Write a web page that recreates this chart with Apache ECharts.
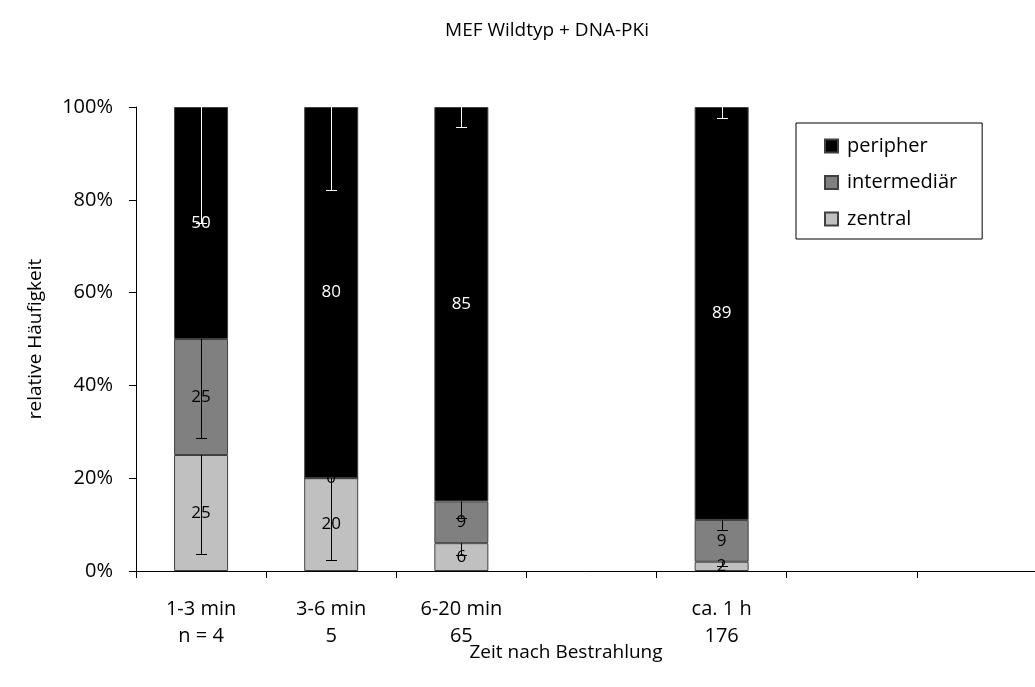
<!DOCTYPE html>
<html>
<head>
<meta charset="utf-8">
<script src="https://cdn.jsdelivr.net/npm/echarts@6/dist/echarts.min.js"></script>
<style>
  html, body { margin: 0; padding: 0; background: #fff; }
  #chart { width: 1035px; height: 687px; }
</style>
</head>
<body>
<div id="chart"></div>
<script>
// Time after irradiation (upper line) and number of cells (lower line)
const timeLabels  = ['1-3 min', '3-6 min', '6-20 min', '', 'ca. 1 h', '', ''];
const countLabels = ['n = 4', '5', '65', '', '176', '', ''];

// Relative frequency (%) per localisation
const zentral      = [25, 20, 6, null, 2, null, null];
const intermediaer = [25, 0, 9, null, 9, null, null];
const peripher     = [50, 80, 85, null, 89, null, null];

// One-sided error (%) drawn downward from the top of each segment
const zentralErr      = [21.3, 17.6, 2.6, null, 1.0, null, null];
const intermediaerErr = [21.3, 0, 3.5, null, 2.2, null, null];
const peripherErr     = [25, 17.9, 4.3, null, 2.4, null, null];

const yTicks = [0, 20, 40, 60, 80, 100];

const FONT = 'Open Sans';
const categories = timeLabels.map((t, i) => t ? t + '\n' + countLabels[i] : '');

// error bar items: [category index, top of segment, error, line colour]
function errorItems(values, below, errs, color) {
  const out = [];
  values.forEach((v, i) => {
    if (v == null || errs[i] == null || errs[i] === 0) return;
    const top = below.reduce((s, arr) => s + (arr[i] || 0), 0) + v;
    out.push([i, top, errs[i], color]);
  });
  return out;
}
const errData = []
  .concat(errorItems(zentral, [], zentralErr, '#000'))
  .concat(errorItems(intermediaer, [zentral], intermediaerErr, '#000'))
  .concat(errorItems(peripher, [zentral, intermediaer], peripherErr, '#fff'));

function barSeries(name, data, color, labelColor) {
  return {
    name: name,
    type: 'bar',
    stack: 'total',
    data: data,
    barWidth: 54,
    itemStyle: { color: color, borderColor: '#404040', borderWidth: 1 },
    label: {
      show: true,
      position: 'inside',
      color: labelColor,
      fontFamily: FONT,
      fontSize: 17
    },
    emphasis: { disabled: true }
  };
}

const chart = echarts.init(document.getElementById('chart'), null, { renderer: 'canvas' });
chart.setOption({
  animation: false,
  backgroundColor: '#fff',
  textStyle: { fontFamily: FONT, color: '#000' },
  legend: {
    orient: 'vertical',
    left: 796,
    top: 123,
    padding: [13, 25, 10, 28],
    itemGap: 16.5,
    itemWidth: 13,
    itemHeight: 13,
    icon: 'rect',
    borderColor: '#000',
    borderWidth: 1,
    data: ['peripher', 'intermediär', 'zentral'],
    textStyle: { fontFamily: FONT, fontSize: 20, color: '#000', lineHeight: 20, padding: [0, 0, 0, 4] }
  },
  graphic: [{
    type: 'text',
    x: 547,
    y: 31,
    style: {
      text: 'MEF Wildtyp + DNA-PKi',
      font: '19px "' + FONT + '"',
      fill: '#000',
      textAlign: 'center',
      textVerticalAlign: 'middle'
    }
  }, {
    type: 'text',
    x: 566,
    y: 653,
    style: {
      text: 'Zeit nach Bestrahlung',
      font: '19px "' + FONT + '"',
      fill: '#000',
      textAlign: 'center',
      textVerticalAlign: 'middle'
    }
  }],
  grid: {
    left: 136, top: 107, width: 911, height: 464,
    containLabel: false,
    outerBoundsMode: 'none'
  },
  xAxis: {
    type: 'category',
    data: categories,
    axisLine: { lineStyle: { color: '#000', width: 1 } },
    axisTick: { show: true, length: 7, lineStyle: { color: '#000' } },
    axisLabel: {
      interval: 0,
      margin: 25,
      color: '#000',
      fontFamily: FONT,
      fontSize: 20,
      lineHeight: 27
    },
    splitLine: { show: false }
  },
  yAxis: {
    type: 'value',
    min: yTicks[0],
    max: yTicks[yTicks.length - 1],
    interval: 20,
    name: 'relative Häufigkeit',
    nameLocation: 'middle',
    nameGap: 91,
    nameTextStyle: { fontFamily: FONT, fontSize: 19, color: '#000' },
    axisLine: { show: true, lineStyle: { color: '#000', width: 1 } },
    axisTick: { show: true, length: 7, lineStyle: { color: '#000' } },
    axisLabel: {
      formatter: '{value}%',
      margin: 23,
      color: '#000',
      fontFamily: FONT,
      fontSize: 20
    },
    splitLine: { show: false }
  },
  series: [
    barSeries('zentral', zentral, '#c0c0c0', '#000'),
    barSeries('intermediär', intermediaer, '#808080', '#000'),
    barSeries('peripher', peripher, '#000000', '#fff'),
    {
      type: 'custom',
      name: 'error',
      z: 5,
      silent: true,
      data: errData,
      encode: { x: 0, y: 1 },
      renderItem: function (params, api) {
        const i = api.value(0);
        const top = api.value(1);
        const err = api.value(2);
        const color = errData[params.dataIndex][3];
        const p0 = api.coord([i, top]);
        const p1 = api.coord([i, top - err]);
        const x = Math.round(p0[0]) + 0.5;
        const y1 = Math.round(p1[1]) + 0.5;
        return {
          type: 'group',
          children: [
            { type: 'line', shape: { x1: x, y1: p0[1], x2: x, y2: y1 },
              style: { stroke: color, lineWidth: 1 } },
            { type: 'line', shape: { x1: x - 5.5, y1: y1, x2: x + 5.5, y2: y1 },
              style: { stroke: color, lineWidth: 1 } }
          ]
        };
      }
    }
  ]
});
</script>
</body>
</html>
